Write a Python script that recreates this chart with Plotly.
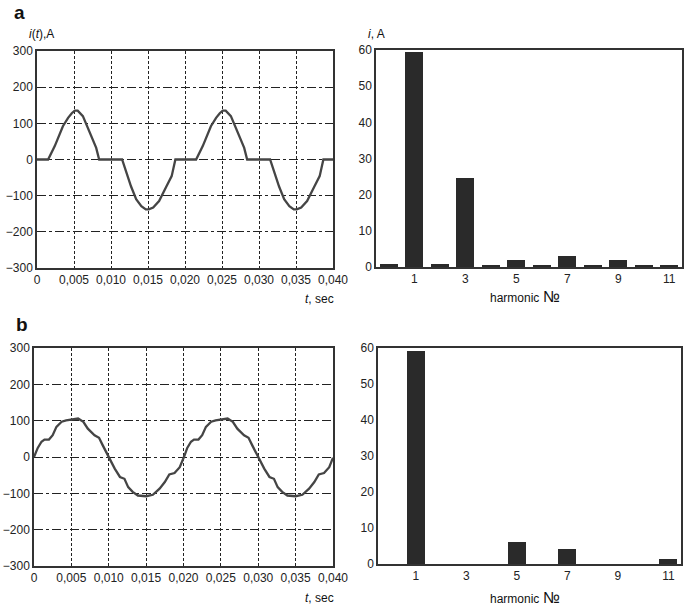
import plotly.graph_objects as go

# ---- data ----
t_a = [0.0, 0.0015, 0.0024, 0.0031, 0.0035, 0.0042, 0.0047, 0.0051, 0.0055, 0.0062, 0.0069, 0.0076, 0.0080, 0.0084,
       0.0115, 0.0121, 0.0127, 0.0134, 0.0141, 0.0147, 0.0151, 0.0157, 0.0165, 0.0175, 0.0182, 0.0187,
       0.0215, 0.0224, 0.0231, 0.0235, 0.0242, 0.0247, 0.0251, 0.0255, 0.0262, 0.0269, 0.0276, 0.0280, 0.0284,
       0.0315, 0.0321, 0.0327, 0.0334, 0.0341, 0.0347, 0.0351, 0.0357, 0.0365, 0.0375, 0.0382, 0.0387, 0.0400]
i_a = [0, 0, 37, 74, 92, 115, 128, 135, 135, 120, 87, 55, 32, 0,
       0, -37, -74, -110, -129, -138, -138, -133, -115, -74, -46, 0,
       0, 37, 74, 92, 115, 128, 135, 135, 120, 87, 55, 32, 0,
       0, -37, -74, -110, -129, -138, -138, -133, -115, -74, -46, 0, 0]

t_b = [0.0, 0.0005, 0.0010, 0.0014, 0.0020, 0.0025, 0.0030, 0.0037, 0.0043, 0.0050, 0.0059, 0.0066, 0.0072, 0.0081,
       0.0087, 0.0092, 0.0100, 0.0108, 0.0115, 0.0121, 0.0126, 0.0132, 0.0139, 0.0150, 0.0159, 0.0168, 0.0175,
       0.0181, 0.0188, 0.0195, 0.0201,
       0.0205, 0.0210, 0.0214, 0.0220, 0.0225, 0.0230, 0.0237, 0.0243, 0.0250, 0.0259, 0.0266, 0.0272, 0.0281,
       0.0287, 0.0292, 0.0300, 0.0308, 0.0315, 0.0321, 0.0326, 0.0332, 0.0339, 0.0350, 0.0359, 0.0368, 0.0375,
       0.0381, 0.0388, 0.0395, 0.0400]
i_b = [0, 25, 42, 48, 48, 60, 83, 97, 101, 103, 106, 97, 78, 60,
       53, 32, 0, -32, -55, -60, -83, -96, -106, -108, -104, -87, -69,
       -48, -44, -28, 2,
       25, 42, 48, 48, 60, 83, 97, 101, 103, 106, 97, 78, 60,
       53, 32, 0, -32, -55, -60, -83, -96, -106, -108, -104, -87, -69,
       -48, -44, -28, -2]

harmonics = list(range(12))
amp_a = [0.8, 59.4, 0.8, 24.6, 0.5, 1.8, 0.5, 3.0, 0.5, 1.8, 0.5, 0.5]
amp_b = [0, 59.1, 0, 0, 0, 6.0, 0, 4.2, 0, 0, 0, 1.4]

t_ticks = [0, 0.005, 0.010, 0.015, 0.020, 0.025, 0.030, 0.035, 0.040]
t_labels = ["0", "0,005", "0,010", "0,015", "0,020", "0,025", "0,030", "0,035", "0,040"]
i_ticks = [-300, -200, -100, 0, 100, 200, 300]
i_labels = ["\u2212300", "\u2212200", "\u2212100", "0", "100", "200", "300"]
h_ticks = [1, 3, 5, 7, 9, 11]
a_ticks = [0, 10, 20, 30, 40, 50, 60]

W, H = 685, 607
def xd(a, b): return [a / W, b / W]
def yd(top, bot): return [1 - bot / H, 1 - top / H]

fig = go.Figure()
line_style = dict(color="#454545", width=2.3)
bar_color = "#2a2a2a"

fig.add_trace(go.Scatter(x=t_a, y=i_a, mode="lines", line=line_style, xaxis="x", yaxis="y"))
fig.add_trace(go.Bar(x=harmonics, y=amp_a, marker=dict(color=bar_color, line=dict(width=0)), width=0.72,
                     xaxis="x2", yaxis="y2"))
fig.add_trace(go.Scatter(x=t_b, y=i_b, mode="lines", line=line_style, xaxis="x3", yaxis="y3"))
fig.add_trace(go.Bar(x=harmonics, y=amp_b, marker=dict(color=bar_color, line=dict(width=0)), width=0.72,
                     xaxis="x4", yaxis="y4"))

tickfont = dict(family="Liberation Sans, Arial, sans-serif", size=12, color="#222")
frame = dict(showline=True, linecolor="#333", linewidth=1.5, mirror=True, ticks="", zeroline=False,
             tickfont=tickfont, automargin=False)

tx = dict(frame, range=[0, 0.04], tickvals=t_ticks, ticktext=t_labels, showgrid=True,
          gridcolor="#222", gridwidth=1, griddash="3px,2px")
ty = dict(frame, range=[-300, 300], tickvals=i_ticks, ticktext=i_labels, showgrid=True,
          gridcolor="#222", gridwidth=1, griddash="dashdot")
hx = dict(frame, range=[-0.5, 11.5], tickvals=h_ticks, showgrid=False)
hy = dict(frame, range=[0, 60], tickvals=a_ticks, showgrid=False)

fig.update_layout(
    width=W, height=H, margin=dict(l=0, r=0, t=0, b=0),
    paper_bgcolor="white", plot_bgcolor="white", showlegend=False, bargap=0,
    xaxis=dict(tx, domain=xd(37, 333), anchor="y"),
    yaxis=dict(ty, domain=yd(51, 268), anchor="x"),
    xaxis2=dict(hx, domain=xd(376, 682), anchor="y2"),
    yaxis2=dict(hy, domain=yd(50, 267), anchor="x2"),
    xaxis3=dict(tx, domain=xd(34, 333), anchor="y3"),
    yaxis3=dict(ty, domain=yd(348, 566), anchor="x3"),
    xaxis4=dict(hx, domain=xd(378, 681), anchor="y4"),
    yaxis4=dict(hy, domain=yd(348, 564), anchor="x4"),
)

def ann(text, x, y, size=12, xanchor="left"):
    fig.add_annotation(text=text, x=x / W, y=1 - y / H, xref="paper", yref="paper",
                       showarrow=False, xanchor=xanchor, yanchor="middle",
                       font=dict(family="Liberation Sans, Arial, sans-serif", size=size, color="#111"))

ann("<b>a</b>", 12, 13, size=19)
ann("<b>b</b>", 14, 325, size=19)
ann("<i>i</i>(<i>t</i>),A", 27, 34, size=12)
ann("<i>i</i>, A", 366, 34, size=12)
ann("<i>t</i>, sec", 336, 299, size=12, xanchor="right")
ann("<i>t</i>, sec", 336, 598, size=12, xanchor="right")
ann("harmonic <span style='font-size:16px'>№</span>", 525, 296, size=12, xanchor="center")
ann("harmonic <span style='font-size:16px'>№</span>", 525, 597, size=12, xanchor="center")

fig.write_html("out.html", config={"displayModeBar": False},
               post_script="document.body.style.margin='0';document.body.style.overflow='hidden';")
